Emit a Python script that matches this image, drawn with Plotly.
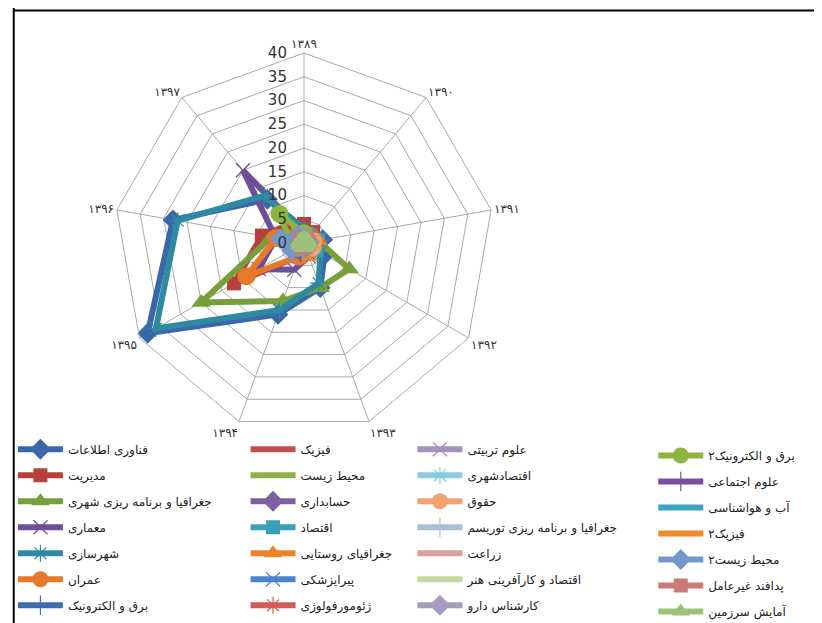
import plotly.graph_objects as go

years = ["۱۳۸۹", "۱۳۹۰", "۱۳۹۱", "۱۳۹۲", "۱۳۹۳", "۱۳۹۴", "۱۳۹۵", "۱۳۹۶", "۱۳۹۷"]

names = [
    "فناوری اطلاعات", "مدیریت", "جغرافیا و برنامه ریزی شهری", "معماری", "شهرسازی", "عمران", "برق و الکترونیک",
    "فیزیک", "محیط زیست", "حسابداری", "اقتصاد", "جغرافیای روستایی", "پیرایزشکی", "ژئومورفولوژی",
    "علوم تربیتی", "اقتصادشهری", "حقوق", "جغرافیا و برنامه ریزی توریسم", "زراعت", "اقتصاد و کارآفرینی هنر", "کارشناس دارو",
    "برق و الکترونیک۲", "علوم اجتماعی", "آب و هواشناسی", "فیزیک۲", "محیط زیست۲", "پدافند غیرعامل", "آمایش سرزمین",
]

values = [
    [3, 2, 4, 5, 10, 16, 38, 28, 12],
    [4, 3, 3, 2, 2, 3, 17, 9, 5],
    [2, 2, 3, 11, 10, 13, 25, 7, 3],
    [2, 2, 3, 3, 3, 6, 11, 6, 20],
    [3, 2, 3.5, 4, 9, 15, 36, 27, 13],
    [1, 2, 2, 2, 2, 3, 14, 6, 2],
    [1, 1, 2, 2, 1, 1, 2, 1, 1],
    [3, 3, 3, 3, 2, 1, 1, 1, 1],
    [1, 1, 1, 2, 1, 1, 1, 1, 1],
    [2, 1, 1, 1, 2, 2, 3, 2, 2],
    [1, 2, 3, 3, 2, 1, 1, 1, 1],
    [1, 1, 3, 2, 3, 2, 2, 2, 1],
    [1, 1, 2, 2, 2, 1, 1, 1, 1],
    [2, 2, 3, 2, 1, 1, 1, 1, 1],
    [1, 1, 2, 1, 1, 1, 1, 1, 1],
    [1, 1, 2, 2, 1, 1, 1, 1, 1],
    [1, 1, 2, 2, 1, 1, 2, 2, 1],
    [1, 1, 1, 1, 1, 1, 1, 1, 1],
    [1, 1, 1, 1, 1, 1, 1, 1, 1],
    [1, 1, 1, 2, 2, 2, 1, 1, 1],
    [1, 1, 0.5, 0, 0, 0, 0, 0, 0],
    [2, 1, 1, 1, 1, 1, 2, 3, 8],
    [1, 1, 1, 1, 1, 2, 2, 1, 1],
    [1, 1, 2, 2, 2, 1, 1, 1, 1],
    [1, 2, 2, 2, 1, 1, 1, 1, 1],
    [1, 1, 1, 1, 1, 1, 3, 5, 2],
    [1, 1, 1, 1, 1, 1, 1, 1, 1],
    [1, 1, 1, 1, 1, 1, 1, 1, 1],
]

colors = [
    "#3A67A8", "#B8413E", "#77A03A", "#6E4E96", "#2E8AA3", "#E8782A", "#3D6DB0",
    "#C0504D", "#8DB04A", "#7E5FA0", "#3AA0B8", "#E8842A", "#4A85CF", "#D65A55",
    "#A391BE", "#8ACBDC", "#F5A070", "#A8BEDC", "#D9A0A0", "#C4D8A4", "#A69CBE",
    "#8DB43E", "#7A4FA0", "#3AA6C4", "#F08C2A", "#7598CC", "#CC7A78", "#9CC27A",
]

markers = [
    "diamond", "square", "triangle-up", "x-thin", "asterisk", "circle", "cross-thin",
    None, "line-ew", "diamond", "square", "triangle-up", "x-thin", "asterisk",
    "x-thin", "asterisk", "circle", "cross-thin", None, "line-ew", "diamond",
    "circle", "cross-thin", None, "line-ew", "diamond", "square", "triangle-up",
]

sizes = {"diamond": 16, "square": 14, "triangle-up": 17, "circle": 18}
thin = {"x-thin", "cross-thin", "asterisk", "line-ew"}

fig = go.Figure()
for i, (nm, vals, col, mk) in enumerate(zip(names, values, colors, markers)):
    legend_id = "legend" if i < 7 else "legend%d" % (i // 7 + 1)
    r = vals + vals[:1]
    th = years + years[:1]
    if mk is None:
        mode = "lines"
        marker = dict()
    elif mk in thin:
        mode = "lines+markers"
        marker = dict(symbol=mk, size=14, color=col, line=dict(width=1.2, color=col))
    else:
        mode = "lines+markers"
        marker = dict(symbol=mk, size=sizes[mk], color=col, line=dict(width=0))
    fig.add_trace(go.Scatterpolar(
        r=r, theta=th, name=nm, mode=mode, marker=marker,
        line=dict(color=col, width=6),
        legend=legend_id, legendgroup="g%d" % i,
    ))

cx, cy, rad = 296, 235, 190
W, H = 822, 623

fig.update_layout(
    width=W, height=H,
    margin=dict(l=0, r=0, t=0, b=0),
    paper_bgcolor="white",
    font=dict(family="DejaVu Sans", color="#222222"),
    polar=dict(
        domain=dict(x=[(cx - rad) / W, (cx + rad) / W], y=[(H - cy - rad) / H, (H - cy + rad) / H]),
        gridshape="linear",
        bgcolor="white",
        radialaxis=dict(range=[0, 40], dtick=5, angle=90, tickangle=90, side="counterclockwise",
                        ticksuffix="\u00a0\u00a0\u00a0",
                        showline=False, gridcolor="#A9A9A9", gridwidth=1, ticks="",
                        tickfont=dict(size=15, color="#333333", family="DejaVu Sans")),
        angularaxis=dict(direction="clockwise", rotation=90, showline=True, linecolor="#A9A9A9",
                         gridcolor="#A9A9A9", ticks="", tickfont=dict(size=12, color="#333333")),
    ),
    shapes=[dict(type="line", xref="paper", yref="paper", x0=0.007, x1=0.007, y0=0, y1=1,
                 line=dict(color="black", width=2)),
            dict(type="line", xref="paper", yref="paper", x0=0.007, x1=0.99, y0=0.996, y1=0.996,
                 line=dict(color="black", width=2))],
)

leg_common = dict(traceorder="grouped", tracegroupgap=7, itemwidth=45, yanchor="top",
                  xanchor="left", bgcolor="rgba(0,0,0,0)", font=dict(size=12, color="#222222"))
fig.update_layout(
    legend=dict(x=0.006, y=0.315, **leg_common),
    legend2=dict(x=0.289, y=0.315, **leg_common),
    legend3=dict(x=0.492, y=0.315, **leg_common),
    legend4=dict(x=0.785, y=0.305, **leg_common),
)

fig.write_html("out.html")
